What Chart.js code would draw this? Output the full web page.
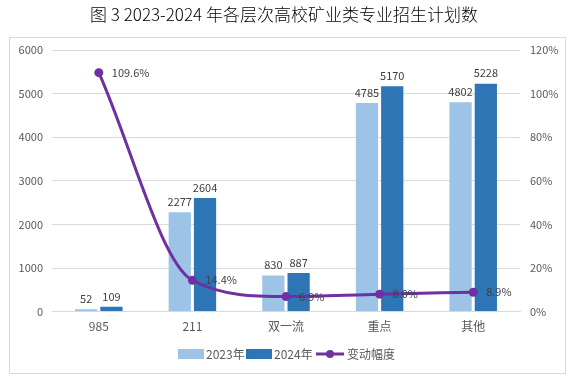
<!DOCTYPE html>
<html><head><meta charset="utf-8">
<script src="https://cdn.jsdelivr.net/npm/chart.js@4"></script>
<style>html,body{margin:0;padding:0;background:#fff}#w{width:570px;height:380px;position:relative}</style>
</head><body><div id="w"><canvas id="c" width="570" height="380"></canvas></div>
<script>
const categories = ['985', '211', '双一流', '重点', '其他'];
const values2023 = [52, 2277, 830, 4785, 4802];
const values2024 = [109, 2604, 887, 5170, 5228];
const changePct = [109.6, 14.4, 6.9, 8.0, 8.9];
const leftTicks = [0, 1000, 2000, 3000, 4000, 5000, 6000];
const rightTicks = [0, 20, 40, 60, 80, 100, 120];
const seriesNames = ['2023年', '2024年', '变动幅度'];
const titleText = '图 3 2023-2024 年各层次高校矿业类专业招生计划数';

const C23 = '#9DC3E6', C24 = '#2E75B6', CL = '#7030A0';
const FONT = '"Noto Sans CJK SC", "Noto Sans", sans-serif';

const deco = {
  id: 'deco',
  beforeDraw(chart) {
    const ctx = chart.ctx;
    ctx.save();
    ctx.fillStyle = '#fff';
    ctx.fillRect(0, 0, 570, 380);
    ctx.strokeStyle = '#D9D9D9';
    ctx.lineWidth = 1;
    ctx.strokeRect(9.5, 37.5, 556, 336);
    ctx.fillStyle = '#000';
    ctx.font = '300 17px ' + FONT;
    ctx.textAlign = 'center';
    ctx.textBaseline = 'middle';
    ctx.fillText(titleText, 284, 15);
    ctx.restore();
  },
  afterDatasetsDraw(chart) {
    const ctx = chart.ctx;
    ctx.save();
    ctx.font = '11px ' + FONT;
    ctx.fillStyle = '#404040';
    ctx.textBaseline = 'bottom';
    ctx.textAlign = 'center';
    [0, 1].forEach(di => {
      const meta = chart.getDatasetMeta(di);
      meta.data.forEach((el, i) => {
        ctx.fillText(String(chart.data.datasets[di].data[i]), el.x, el.y - 5);
      });
    });
    const lm = chart.getDatasetMeta(2);
    ctx.textAlign = 'left';
    ctx.textBaseline = 'middle';
    lm.data.forEach((el, i) => {
      ctx.fillText(changePct[i].toFixed(1) + '%', el.x + 13, el.y);
    });
    // legend
    const ly = 354;
    ctx.font = '12px ' + FONT;
    let x = 178;
    ctx.fillStyle = C23; ctx.fillRect(x, ly - 5, 26, 10);
    ctx.fillStyle = '#595959'; ctx.fillText(seriesNames[0], x + 28, ly);
    x = 246;
    ctx.fillStyle = C24; ctx.fillRect(x, ly - 5, 26, 10);
    ctx.fillStyle = '#595959'; ctx.fillText(seriesNames[1], x + 28, ly);
    x = 316;
    ctx.strokeStyle = CL; ctx.lineWidth = 3;
    ctx.beginPath(); ctx.moveTo(x, ly); ctx.lineTo(x + 28, ly); ctx.stroke();
    ctx.fillStyle = CL; ctx.beginPath(); ctx.arc(x + 14, ly, 4, 0, Math.PI * 2); ctx.fill();
    ctx.fillStyle = '#595959'; ctx.fillText(seriesNames[2], x + 31, ly);
    ctx.restore();
  }
};

new Chart(document.getElementById('c'), {
  data: {
    labels: categories,
    datasets: [
      { type: 'bar', label: seriesNames[0], data: values2023, backgroundColor: C23, yAxisID: 'y', order: 2,
        categoryPercentage: 0.54, barPercentage: 0.88 },
      { type: 'bar', label: seriesNames[1], data: values2024, backgroundColor: C24, yAxisID: 'y', order: 2,
        categoryPercentage: 0.54, barPercentage: 0.88 },
      { type: 'line', label: seriesNames[2], data: changePct, borderColor: CL, backgroundColor: CL, yAxisID: 'y1',
        borderWidth: 3, pointRadius: 4.5, pointBackgroundColor: CL, pointBorderWidth: 0, tension: 0.4,
        cubicInterpolationMode: 'monotone', order: 1 }
    ]
  },
  plugins: [deco],
  options: {
    responsive: false,
    animation: false,
    devicePixelRatio: 1,
    layout: { padding: { left: 9, right: 10, top: 50, bottom: 38 } },
    plugins: { legend: { display: false }, title: { display: false }, tooltip: { enabled: false } },
    scales: {
      x: {
        grid: { display: false, drawTicks: false },
        border: { color: '#D9D9D9' },
        ticks: { color: '#595959', font: { size: 12, family: FONT }, padding: 8 }
      },
      y: {
        position: 'left', min: 0, max: 6000,
        afterBuildTicks: s => { s.ticks = leftTicks.map(v => ({ value: v })); },
        afterFit: s => { s.width = 43; },
        grid: { color: '#D9D9D9', drawTicks: false },
        border: { display: false },
        ticks: { color: '#595959', font: { size: 11, family: FONT }, padding: 9, callback: v => String(v) }
      },
      y1: {
        position: 'right', min: 0, max: 120,
        afterBuildTicks: s => { s.ticks = rightTicks.map(v => ({ value: v })); },
        afterFit: s => { s.width = 40; },
        grid: { display: false, drawTicks: false },
        border: { display: false },
        ticks: { color: '#595959', font: { size: 11, family: FONT }, padding: 10, callback: v => v + '%' }
      }
    }
  }
});
</script></body></html>
